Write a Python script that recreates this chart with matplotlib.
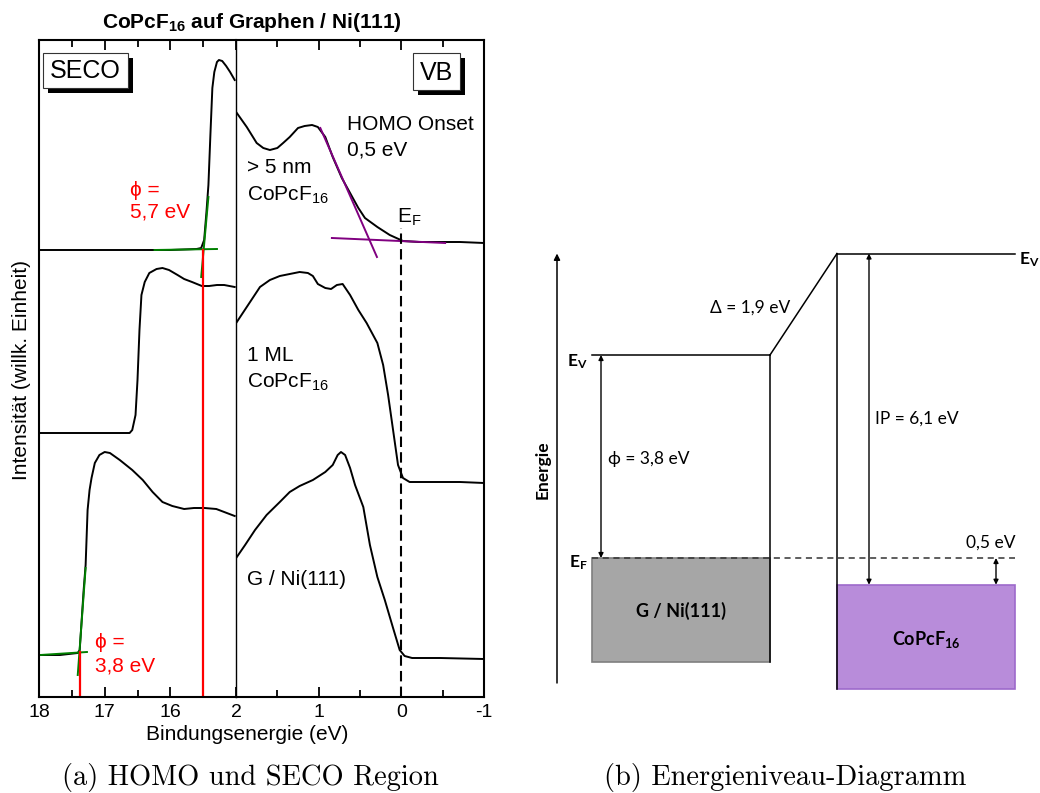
import matplotlib
matplotlib.use("Agg")
import matplotlib.pyplot as plt
from matplotlib.patches import Rectangle

plt.rcParams['font.family'] = ['Liberation Sans', 'DejaVu Sans']
plt.rcParams['axes.unicode_minus'] = False
plt.rcParams['mathtext.fontset'] = 'custom'
plt.rcParams['mathtext.rm'] = 'Liberation Sans'
plt.rcParams['mathtext.bf'] = 'Liberation Sans:bold'
plt.rcParams['mathtext.sf'] = 'Lato:bold'

#### data

# SECO region, binding energy (eV) vs intensity (arb. units)
seco_thick_E = [18.0, 17.0, 16.0, 15.6, 15.53, 15.485, 15.45, 15.42, 15.39, 15.36, 15.33, 15.29, 15.26, 15.21, 15.15, 15.09, 15.02]
seco_thick_I = [447, 447, 447, 448, 449, 457, 485, 512, 562, 609, 625, 635, 637, 636, 631, 625, 617]

seco_ml_E = [18.0, 17.0, 16.62, 16.58, 16.53, 16.5, 16.47, 16.44, 16.39, 16.32, 16.21, 16.12, 16.02, 15.89, 15.79, 15.67, 15.52, 15.41, 15.29, 15.18, 15.02]
seco_ml_I = [264, 264, 264, 267, 282, 317, 367, 402, 415, 424, 428, 429, 427, 422, 418, 415, 411, 411, 412, 412, 410]

seco_sub_E = [18.0, 17.68, 17.41, 17.38, 17.35, 17.32, 17.29, 17.26, 17.23, 17.2, 17.15, 17.08, 17.0, 16.92, 16.77, 16.58, 16.42, 16.27, 16.12, 15.97, 15.79, 15.64, 15.48, 15.3, 15.14, 15.02]
seco_sub_I = [42, 42, 44, 47, 77, 107, 132, 187, 207, 219, 234, 242, 245, 244, 237, 227, 217, 205, 195, 191, 188, 189, 189, 188, 184, 181]

# valence band region
vb_thick_E = [1.99, 1.87, 1.75, 1.67, 1.59, 1.5, 1.43, 1.35, 1.25, 1.17, 1.08, 1.01, 0.92, 0.83, 0.72, 0.62, 0.52, 0.44, 0.29, 0.14, -0.02, -0.22, -0.47, -0.71, -1.0]
vb_thick_I = [584, 570, 554, 549, 547, 549, 554, 560, 569, 571, 572, 570, 560, 540, 519, 504, 489, 479, 470, 462, 456, 455, 455, 455, 454]

vb_ml_E = [1.99, 1.87, 1.71, 1.59, 1.47, 1.35, 1.23, 1.13, 1.07, 1.01, 0.92, 0.85, 0.78, 0.71, 0.62, 0.52, 0.42, 0.29, 0.22, 0.16, 0.1, 0.04, -0.02, -0.1, -0.35, -0.71, -1.0]
vb_ml_I = [375, 390, 410, 417, 421, 423, 425, 424, 421, 413, 409, 408, 412, 413, 402, 387, 374, 354, 332, 302, 267, 232, 219, 215, 215, 215, 214]

vb_sub_E = [1.99, 1.89, 1.77, 1.63, 1.47, 1.35, 1.23, 1.07, 0.92, 0.83, 0.77, 0.73, 0.68, 0.62, 0.56, 0.46, 0.38, 0.29, 0.2, 0.1, 0.02, -0.04, -0.13, -0.47, -1.0]
vb_sub_I = [140, 152, 167, 182, 195, 205, 211, 217, 225, 232, 242, 245, 242, 229, 212, 190, 152, 120, 97, 69, 47, 41, 39, 39, 38]

# linear fits (tangents)
fit_seco_thick_base = ([16.24, 15.29], [447, 448])
fit_seco_thick_edge = ([15.53, 15.42], [420, 500])
fit_seco_sub_base = ([17.98, 17.27], [42, 45])
fit_seco_sub_edge = ([17.41, 17.29], [22, 129])
fit_homo_edge = ([0.98, 0.295], [569, 440])
fit_homo_base = ([0.84, -0.53], [459, 454])
cutoff_thick = 15.5
cutoff_sub = 17.38

# energy level diagram values (eV)
phi_sub = 3.8
delta = 1.9
ip_mol = 6.1
homo_onset = 0.5

W, H = 1040, 793


def fx(x):
    return x / W


def fy(y):
    return 1 - y / H


fig = plt.figure(figsize=(W / 100, H / 100), dpi=100)

axL = fig.add_axes([fx(39), fy(697), fx(236) - fx(39), fy(40) - fy(697)])
axR = fig.add_axes([fx(236), fy(697), fx(484) - fx(236), fy(40) - fy(697)])

for ax in (axL, axR):
    ax.set_ylim(0, 657)
    ax.set_yticks([])
    ax.tick_params(axis='x', which='both', direction='in', top=True, width=1.3, labelsize=14, pad=5)
    ax.tick_params(axis='x', which='major', length=7)
    ax.tick_params(axis='x', which='minor', length=5)
    for s in ax.spines.values():
        s.set_linewidth(1.5)

axL.set_xlim(18, 15)
axL.set_xticks([18, 17, 16])
axL.set_xticks([17.5, 16.5, 15.5], minor=True)
axL.spines['right'].set_visible(False)

axR.set_xlim(2, -1)
axR.set_xticks([2, 1, 0, -1])
axR.set_xticks([1.5, 0.5, -0.5], minor=True)
axR.spines['left'].set_linewidth(1.0)

# spectra
axL.plot(seco_thick_E, seco_thick_I, color='black', lw=1.4)
axL.plot(seco_ml_E, seco_ml_I, color='black', lw=1.4)
axL.plot(seco_sub_E, seco_sub_I, color='black', lw=1.4)
axR.plot(vb_thick_E, vb_thick_I, color='black', lw=1.4)
axR.plot(vb_ml_E, vb_ml_I, color='black', lw=1.4)
axR.plot(vb_sub_E, vb_sub_I, color='black', lw=1.4)

# fits
for fit in (fit_seco_thick_base, fit_seco_thick_edge, fit_seco_sub_base, fit_seco_sub_edge):
    axL.plot(fit[0], fit[1], color='green', lw=1.4)
for fit in (fit_homo_edge, fit_homo_base):
    axR.plot(fit[0], fit[1], color='purple', lw=1.4)

axL.plot([cutoff_thick, cutoff_thick], [0, fit_seco_thick_base[1][0]], color='red', lw=1.6)
axL.plot([cutoff_sub, cutoff_sub], [0, fit_seco_sub_base[1][1]], color='red', lw=1.6)
axR.plot([0, 0], [0, 469], color='black', lw=1.5, ls=(0, (5, 2.5)))

# texts left panel
fig.text(fx(252), fy(22), r'$\mathbf{CoPcF_{16}}$ auf Graphen / Ni(111)', fontsize=15,
         fontweight='bold', ha='center', va='center')
fig.text(fx(22), fy(370), 'Intensität (willk. Einheit)', rotation=90, fontsize=15,
         ha='center', va='center')
fig.text(fx(247), fy(735), 'Bindungsenergie (eV)', fontsize=15, ha='center', va='center')

red_kw = dict(color='red', fontsize=15, ha='left', va='baseline')
fig.text(fx(130), fy(196), 'ϕ =', **red_kw)
fig.text(fx(130), fy(218), '5,7 eV', **red_kw)
fig.text(fx(95), fy(648), 'ϕ =', **red_kw)
fig.text(fx(95), fy(672), '3,8 eV', **red_kw)

blk_kw = dict(color='black', fontsize=15, ha='left', va='baseline')
fig.text(fx(347), fy(130), 'HOMO Onset', **blk_kw)
fig.text(fx(347), fy(156), '0,5 eV', **blk_kw)
fig.text(fx(247), fy(173), '> 5 nm', **blk_kw)
fig.text(fx(247), fy(200), r'CoPcF$_{16}$', **blk_kw)
fig.text(fx(397), fy(222), r'E$_{\mathrm{F}}$', **blk_kw)
fig.text(fx(247), fy(361), '1 ML', **blk_kw)
fig.text(fx(247), fy(387), r'CoPcF$_{16}$', **blk_kw)
fig.text(fx(247), fy(585), 'G / Ni(111)', **blk_kw)

# label boxes with shadow
for (x0, y0, x1, y1, lab) in [(43, 53, 128, 88, 'SECO'), (413, 53, 460, 90, 'VB')]:
    fig.patches.append(Rectangle((fx(x0 + 5), fy(y1 + 5)), fx(x1 - x0), fy(0) - fy(y1 - y0),
                                 transform=fig.transFigure, facecolor='black', edgecolor='none', zorder=5))
    fig.patches.append(Rectangle((fx(x0), fy(y1)), fx(x1 - x0), fy(0) - fy(y1 - y0),
                                 transform=fig.transFigure, facecolor='white', edgecolor='#333333', lw=0.8, zorder=6))
    fig.text(fx((x0 + x1) / 2), fy((y0 + y1) / 2 + 1), lab, fontsize=18, ha='center', va='center', zorder=7)

fig.text(fx(250), fy(778), '(a) HOMO und SECO Region', family='cmr10', fontsize=20.5, ha='center', va='center')

#### energy level diagram
ax2 = fig.add_axes([fx(520), fy(720), fx(1040) - fx(520), fy(200) - fy(720)])
ax2.set_xlim(520, 1040)
ax2.set_ylim((558 - 720) / 53.42, (558 - 200) / 53.42)
ax2.axis('off')

ev_sub = phi_sub
ev_mol = phi_sub + delta
homo = -homo_onset
sub_bottom = -1.95
mol_bottom = -2.45

ln = dict(color='black', lw=1.1)
ax2.annotate('', xy=(557, 5.70), xytext=(557, -2.34),
             arrowprops=dict(arrowstyle='-|>', lw=1.1, color='black', mutation_scale=9, shrinkA=0, shrinkB=0))
ax2.add_patch(Rectangle((592, sub_bottom), 178, 0 - sub_bottom, facecolor='#a6a6a6', edgecolor='#7f7f7f', lw=1.2))
ax2.add_patch(Rectangle((837, mol_bottom), 178, homo - mol_bottom, facecolor='#b88cda', edgecolor='#9d6acb', lw=1.2))
ax2.plot([592, 770], [ev_sub, ev_sub], **ln)
ax2.plot([770, 837], [ev_sub, ev_mol], **ln)
ax2.plot([837, 1015], [ev_mol, ev_mol], **ln)
ax2.plot([770, 770], [ev_sub, sub_bottom], **ln)
ax2.plot([837, 837], [ev_mol, mol_bottom], **ln)
ax2.plot([592, 1015], [0, 0], color='#333333', lw=1.1, ls=(0, (4, 3)))

arr = dict(arrowstyle='<|-|>', lw=1.0, color='black', mutation_scale=7, shrinkA=0, shrinkB=0)
ax2.annotate('', xy=(601, ev_sub), xytext=(601, 0), arrowprops=arr)
ax2.annotate('', xy=(869, ev_mol), xytext=(869, homo), arrowprops=arr)
ax2.annotate('', xy=(996, 0), xytext=(996, homo), arrowprops=arr)

lato = ['Lato', 'DejaVu Sans']
ax2.text(790, (558 - 308) / 53.42, 'Δ = 1,9 eV', family=lato, fontsize=12.5, ha='right', va='center')
ax2.text(608, (558 - 459) / 53.42, 'ϕ = 3,8 eV', family=lato, fontsize=12.5, ha='left', va='center')
ax2.text(875, (558 - 419) / 53.42, 'IP = 6,1 eV', family=lato, fontsize=12.5, ha='left', va='center')
ax2.text(1016, (558 - 543) / 53.42, '0,5 eV', family=lato, fontsize=12.5, ha='right', va='center')
ax2.text(588, (558 - 362) / 53.42, r'$\mathsf{E_V}$', fontsize=12.5, ha='right', va='center')
ax2.text(1019, (558 - 260) / 53.42, r'$\mathsf{E_V}$', fontsize=12.5, ha='left', va='center')
ax2.text(588, (558 - 563) / 53.42, r'$\mathsf{E_F}$', fontsize=12.5, ha='right', va='center')
ax2.text(681, (558 - 611) / 53.42, 'G / Ni(111)', family=lato, fontweight='bold', fontsize=13, ha='center', va='center')
ax2.text(926, (558 - 640) / 53.42, r'$\mathsf{CoPcF_{16}}$', fontsize=13, ha='center', va='center')
ax2.text(543, (558 - 470) / 53.42, 'Energie', family=lato, fontweight='bold', fontsize=12.5,
         rotation=90, ha='center', va='center')

fig.text(fx(785), fy(778), '(b) Energieniveau-Diagramm', family='cmr10', fontsize=20.5, ha='center', va='center')

fig.savefig('out.png', dpi=100)
